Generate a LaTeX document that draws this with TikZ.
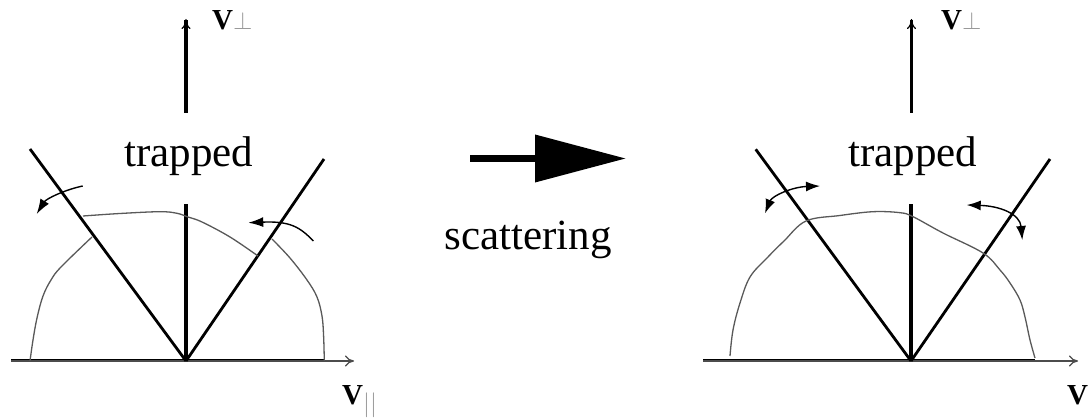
\documentclass[tikz,border=0pt]{standalone}
\usepackage{fontspec}
\setmainfont{Liberation Serif}
\usepackage{xcolor}
\usepackage{tikz}
\usetikzlibrary{arrows.meta,positioning,calc}
\usepackage{amsmath}

\newcommand{\vperp}{\textbf{V}\raisebox{0pt}{\color{gray!80}\fontsize{27}{27}\selectfont$\perp$}}
\newcommand{\vpar}{\textbf{V}\raisebox{-7pt}{\color{gray!80}\fontsize{26}{26}\selectfont$\vert\vert$}}

\begin{document}
\begin{tikzpicture}[
    x=1pt, y=-1pt,
    >=Stealth,
    axis/.style={line width=3pt},
    axisarrow/.style={line width=1.2pt, gray!60!black,
                      -{To[length=9pt,width=11pt,line width=1.2pt]}},
    uparrow/.style={line width=3.1pt,
                    -{To[length=10pt,width=9pt,line width=1.1pt]}},
    cone/.style={line width=2.8pt},
    midline/.style={line width=3.3pt},
    distr/.style={line width=1.3pt, gray!70!black},
    flow/.style={line width=1.4pt, -{Latex[length=15pt,width=10pt]}},
    twoflow/.style={line width=1.4pt,
                    {Latex[length=14pt,width=10pt]}-{Latex[length=14pt,width=10pt]}},
    bigarrow/.style={line width=7pt, -{Triangle[length=91pt,width=46pt]}},
    word/.style={font=\fontsize{43}{50}\selectfont, inner sep=0pt},
    lab/.style={font=\fontsize{29}{34}\selectfont, inner sep=0pt},
  ]

  \useasboundingbox (0,0) rectangle (1090,419);
  \clip (0,0) rectangle (1090,419);

  % ══════════════════════════════════════════════
  % Layout — two velocity planes, arrow between
  %
  %   x=186  : left origin (before scattering)
  %   x=911  : right origin (after scattering)
  %   y=361  : v_par axis, y=167 : "trapped" baseline
  % ══════════════════════════════════════════════

  \coordinate (lo) at (186,361);
  \coordinate (ro) at (911,361);

  % ── Left plane: axes ──
  \draw[axis] (11,361) -- (324,361);
  \draw[axisarrow] (11,361) -- (354,361);
  \draw[uparrow] (186,113) -- (186,19);
  \node[lab, anchor=base west] at (212,30) (lperp) {\vperp};
  \node[lab, anchor=base west] at (342,405) (lpar) {\vpar};

  % ── Left plane: loss cone boundaries ──
  \draw[cone] (lo) -- (30,149);
  \draw[cone] (lo) -- (324,159);
  \draw[midline] (lo) -- (186,204);

  \node[word, anchor=base] at (189,167) (ltrap) {trapped};

  % ── Left plane: distribution, broken at the cone ──
  \draw[distr] plot[smooth, tension=0.6] coordinates
    {(30,361) (33,340) (37,318) (43,296) (51,280) (61,267) (92,237)};
  \draw[distr] plot[smooth, tension=0.6] coordinates
    {(83,216) (120,213.5) (160,211.7) (177,213.3) (188,217)
     (202,222) (230,237) (258,256)};
  \draw[distr] plot[smooth, tension=0.6] coordinates
    {(272,239) (290,258) (307,280) (317,297) (322,316)
     (323.6,336) (324.3,361)};

  % ── Left plane: flux arrows ──
  \draw[flow] (82.7,186) .. controls (64,190) and (46,199) .. (36.7,214);
  \draw[flow] (313.3,241) .. controls (300,227) and (290,221) .. (248.3,222.7);

  % ══════════════════════════════════════════════
  % Middle — scattering arrow
  % ══════════════════════════════════════════════
  \coordinate (sfrom) at (470,158.5);
  \coordinate (sto) at (626,158.5);
  \draw[bigarrow] (sfrom) -- (sto);
  \node[word, anchor=base] at (528,250) (scat) {scattering};

  % ── Right plane: axes ──
  \draw[axis] (703,361) -- (1035,361);
  \draw[axisarrow] (703,361) -- (1078,361);
  \draw[uparrow] (911.5,113) -- (911.5,19);
  \node[lab, anchor=base west] at (941,30) (rperp) {\vperp};
  \node[lab, anchor=base west] at (1067,405) (rpar) {\vpar};

  % ── Right plane: loss cone boundaries ──
  \draw[cone] (ro) -- (755.7,149.3);
  \draw[cone] (ro) -- (1050,159);
  \draw[midline] (ro) -- (911,204);

  \node[word, anchor=base] at (913,167) (rtrap) {trapped};

  % ── Right plane: distribution, now continuous ──
  \draw[distr] plot[smooth, tension=0.6] coordinates
    {(730,356) (733,330) (740,303) (750,277) (767,258) (784,241)
     (806,221) (840,215.5) (873,211.7) (900,212.7) (913,216.7)
     (943,233) (983,253) (1000,270) (1010,283) (1020,300)
     (1025,317) (1030,340) (1035,358)};

  % ── Right plane: two-way flux arrows ──
  \draw[twoflow] (765,213.3) .. controls (772,196) and (792,187) .. (820,186);
  \draw[twoflow] (966.7,205) .. controls (1000,206) and (1020,214) .. (1022.3,240);

\end{tikzpicture}
\end{document}
